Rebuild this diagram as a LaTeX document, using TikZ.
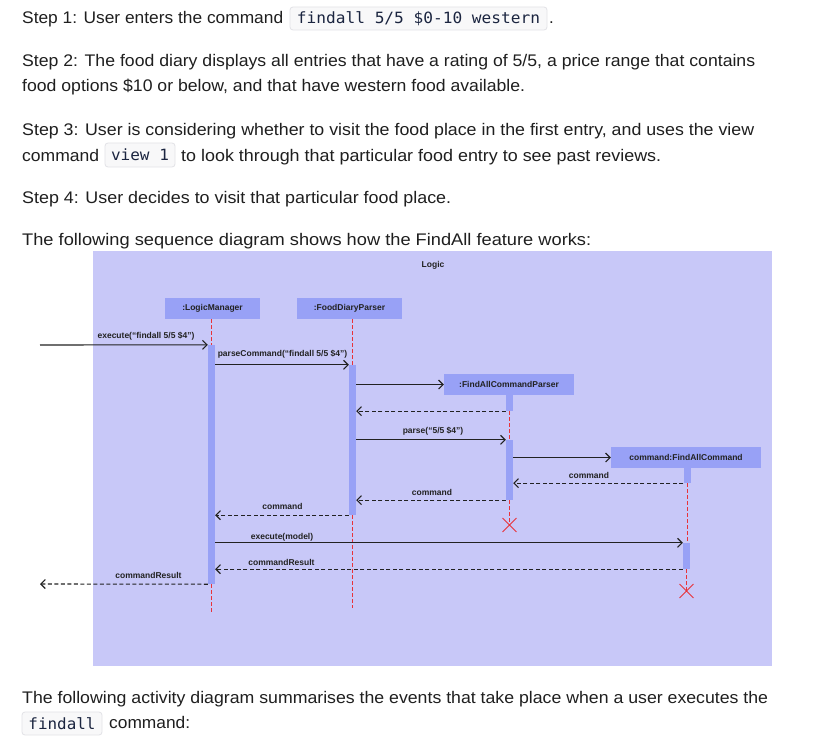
\documentclass[tikz,border=0pt]{standalone}
\usepackage{fontspec}
\setmainfont{Liberation Sans}
\newfontfamily\codefont{DejaVu Sans Mono}
\usetikzlibrary{arrows.meta,shapes.misc}
\definecolor{panelbg}{HTML}{C8C8F8}
\definecolor{boxfill}{HTML}{98A1F6}
\definecolor{lifered}{HTML}{E8333A}
\definecolor{txt}{HTML}{1F1F1F}
\definecolor{codebg}{HTML}{F8F8F9}
\definecolor{codeborder}{HTML}{E2E2E6}
\definecolor{codetxt}{HTML}{1B2540}
\definecolor{ink}{HTML}{222222}
\newcommand{\fitw}[2]{\resizebox{#1}{\height}{#2}}
\begin{document}
\begin{tikzpicture}[x=1pt,y=-1pt,
  body/.style={anchor=base west, inner sep=0pt, font=\fontsize{16.8}{20}\selectfont, text=txt},
  codebox/.style={draw=codeborder, fill=codebg, rounded corners=3pt, line width=0.8pt, inner sep=0pt,
    font=\codefont\fontsize{15.5}{18}\selectfont, text=codetxt},
  obj/.style={fill=boxfill, inner sep=0pt, font=\bfseries\fontsize{8.5}{9}\selectfont, text=ink, minimum height=21pt},
  act/.style={fill=boxfill, inner sep=0pt, minimum width=7pt},
  lbl/.style={font=\bfseries\fontsize{8.5}{9}\selectfont, inner sep=0pt, text=ink},
  life/.style={draw=lifered, line width=1pt, dash pattern=on 3.5pt off 2.5pt},
  call/.style={draw=ink, line width=1.1pt, -{Straight Barb[length=4.5pt,width=9pt]}},
  ret/.style={call, dash pattern=on 4pt off 2.5pt},
  xmark/.style={cross out, draw=lifered, line width=0.9pt, minimum size=13pt, inner sep=0pt}
]
\useasboundingbox[fill=white] (0,0) rectangle (814,741);

% ---------- text above ----------
\node[body] (s1) at (22,24) {\fitw{261pt}{Step 1: User enters the command}};
\node[codebox, minimum width=257pt, minimum height=23pt] (c1) at (418.5,18.5) {\fitw{243pt}{findall 5/5 \$0-10 western}};
\node[body] (s1dot) at (549,24) {.};
\node[body] (s2a) at (22,66.5) {\fitw{733pt}{Step 2: The food diary displays all entries that have a rating of 5/5, a price range that contains}};
\node[body] (s2b) at (22,92) {\fitw{503pt}{food options \$10 or below, and that have western food available.}};
\node[body] (s3a) at (22,135.5) {\fitw{732pt}{Step 3: User is considering whether to visit the food place in the first entry, and uses the view}};
\node[body] (s3b) at (22,161.5) {\fitw{77pt}{command}};
\node[codebox, minimum width=70pt, minimum height=24pt] (c2) at (140,155) {\fitw{58pt}{view 1}};
\node[body] (s3c) at (181,161.5) {\fitw{480pt}{to look through that particular food entry to see past reviews.}};
\node[body] (s4) at (22,203) {\fitw{429pt}{Step 4: User decides to visit that particular food place.}};
\node[body] (s5) at (22,245) {\fitw{569pt}{The following sequence diagram shows how the FindAll feature works:}};

% ---------- panel ----------
\fill[panelbg] (93,251) rectangle (772,666);
\node[lbl] (logic) at (433,265) {Logic};

% objects
\node[obj, minimum width=95pt] (lm) at (212.5,308.5) {:LogicManager};
\node[obj, minimum width=105pt] (fdp) at (349.5,308.5) {:FoodDiaryParser};
\node[obj, minimum width=130pt] (facp) at (509,384.5) {:FindAllCommandParser};
\node[obj, minimum width=150pt] (fac) at (686,457.5) {command:FindAllCommand};

% end points
\coordinate (lmend) at (211.5,612);
\coordinate (fdpend) at (352.5,608);
\coordinate (in) at (40,345);
\coordinate (out) at (40,584);

% lifelines (behind activations)
\draw[life] (211.5,319) -- (211.5,345);
\draw[life] (352.5,319) -- (352.5,365);
\draw[life] (211.5,584) -- (lmend);
\draw[life] (352.5,515) -- (fdpend);
\draw[life] (509.5,411) -- (509.5,440);
\draw[life] (509.5,500) -- (509.5,525);
\draw[life] (687,483) -- (687,543);
\draw[life] (686.5,569) -- (686.5,591);

% activations
\node[act, minimum height=239pt] (lma) at (211.5,464.5) {};
\node[act, minimum height=150pt] (fdpa) at (352.5,440) {};
\node[act, minimum height=16pt] (facpa1) at (509.5,403) {};
\node[act, minimum height=60pt] (facpa2) at (509.5,470) {};
\node[act, minimum height=15pt] (faca1) at (687,475.5) {};
\node[act, minimum height=26pt] (faca2) at (686.5,556) {};

% destruction marks
\node[xmark] (x1) at (509.5,525) {};
\node[xmark] (x2) at (686.5,591) {};

% messages
\draw[call] (in) -- (lma.north west);
\node[lbl] at (146,336) {execute(“findall 5/5 \$4”)};
\draw[call] (lma.east |- fdpa.north) -- (fdpa.north west);
\node[lbl] at (282.5,354) {parseCommand(“findall 5/5 \$4”)};
\draw[call] (fdpa.east |- facp.west) -- (facp.west);
\draw[ret] (facpa1.south west) -- (fdpa.east |- facpa1.south);
\draw[call] (fdpa.east |- facpa2.north) -- (facpa2.north west);
\node[lbl] at (433,431) {parse(“5/5 \$4”)};
\draw[call] (facpa2.east |- fac.west) -- (fac.west);
\draw[ret] (faca1.south west) -- (facpa2.east |- faca1.south);
\node[lbl] at (589,475) {command};
\draw[ret] (facpa2.south west) -- (fdpa.east |- facpa2.south);
\node[lbl] at (432,492) {command};
\draw[ret] (fdpa.south west) -- (lma.east |- fdpa.south);
\node[lbl] at (282.5,506) {command};
\draw[call] (lma.east |- faca2.north) -- (faca2.north west);
\node[lbl] at (282,537) {execute(model)};
\draw[ret] (faca2.south west) -- (lma.east |- faca2.south);
\node[lbl] at (281.5,562) {commandResult};
\draw[ret] (lma.south west) -- (out);
\node[lbl] at (148.5,575) {commandResult};

% ---------- text below ----------
\node[body] (b1) at (22,703) {\fitw{746pt}{The following activity diagram summarises the events that take place when a user executes the}};
\node[codebox, minimum width=80pt, minimum height=23pt] (c3) at (62,723.5) {\fitw{67pt}{findall}};
\node[body] (b2) at (109,728) {\fitw{81pt}{command:}};
\end{tikzpicture}
\end{document}
